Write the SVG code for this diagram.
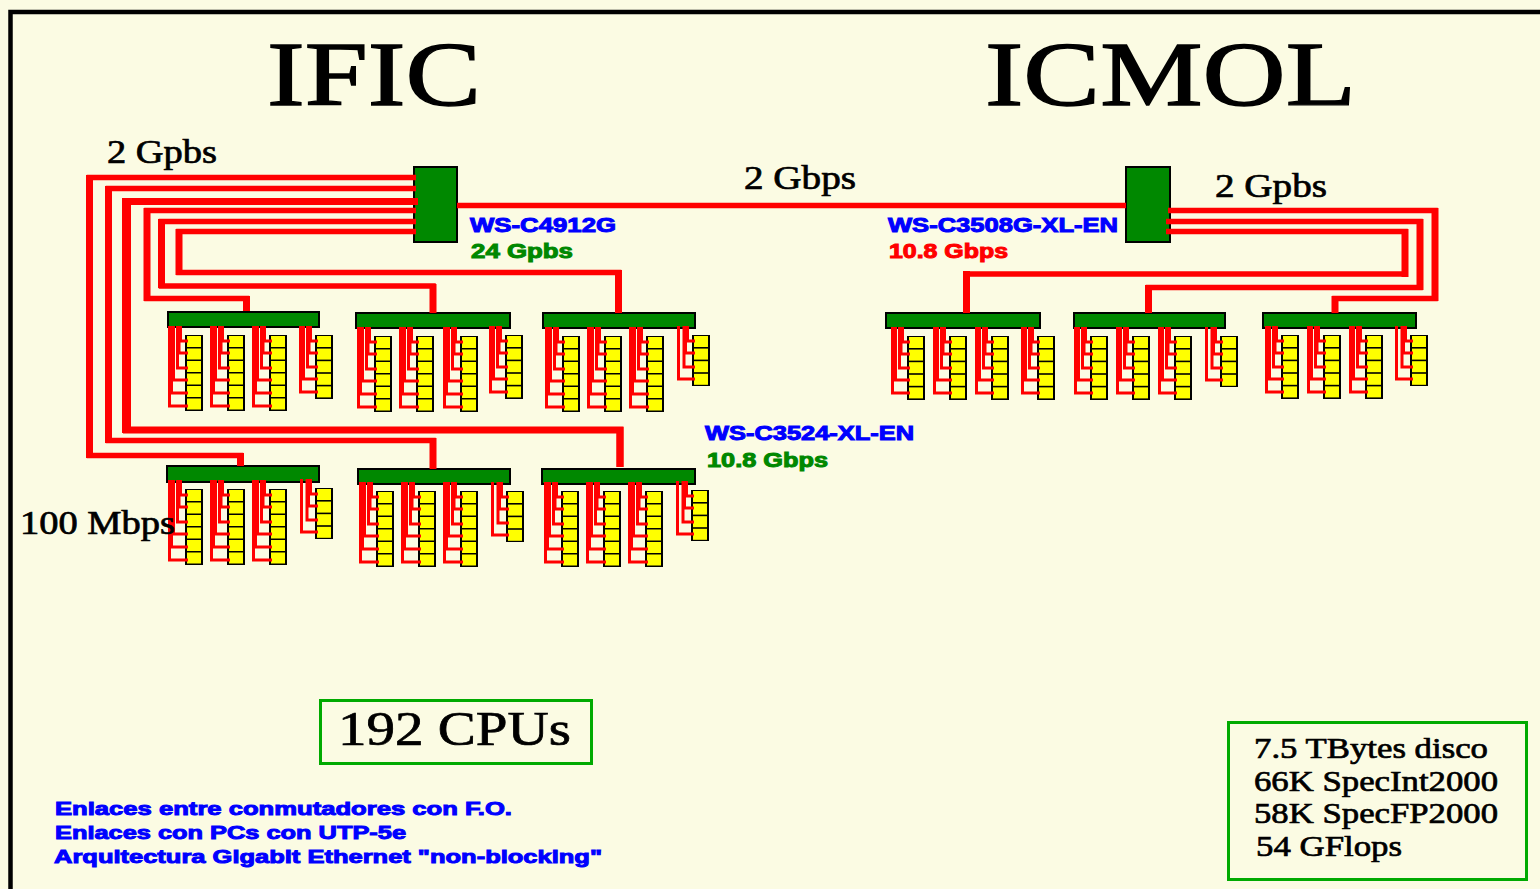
<svg xmlns="http://www.w3.org/2000/svg" xmlns:xlink="http://www.w3.org/1999/xlink" width="1540" height="889" viewBox="0 0 1540 889">
<style>
.sw{fill:#008800;stroke:#000;stroke-width:2}
.k{fill:#000}
.y{fill:#ffff00}
.tr{fill:none;stroke:#ff0000;stroke-width:5.500;stroke-linejoin:miter}
.v{fill:none;stroke:#ff0000;stroke-width:7}
.w{fill:none;stroke:#ff0000;stroke-width:3}
.box{fill:none;stroke:#00aa00;stroke-width:3}
text{font-family:"Liberation Serif","Times New Roman",serif;fill:#000}
.h{font-size:92px;stroke:#000;stroke-width:1.400}
.m{font-size:33px;stroke:#000;stroke-width:.7}
.n{font-size:30px;stroke:#000;stroke-width:.7}
.c{font-size:48px;stroke:#000;stroke-width:.7}
.b{font-family:"Liberation Sans",Arial,sans-serif;font-weight:700;font-size:20px;stroke-width:1}
.l{font-family:"Liberation Sans",Arial,sans-serif;font-weight:700;font-size:19px;fill:#0000ff;stroke:#0000ff;stroke-width:1}
.blue{fill:#0000ff;stroke:#0000ff}.green{fill:#008800;stroke:#008800}.red{fill:#ff0000;stroke:#ff0000}
</style>
<defs>
<g id="c6"><rect class="k" x="0" y="0" width="18" height="76"/><g class="y"><rect x="2" y="1" width="14" height="11"/><rect x="2" y="13.500" width="14" height="11"/><rect x="2" y="26" width="14" height="11"/><rect x="2" y="38.500" width="14" height="11"/><rect x="2" y="51" width="14" height="11"/><rect x="2" y="63.500" width="14" height="11"/></g></g>
<g id="c5"><rect class="k" x="0" y="0" width="18" height="64"/><g class="y"><rect x="2" y="1" width="14" height="11"/><rect x="2" y="13.600" width="14" height="11"/><rect x="2" y="26.200" width="14" height="11"/><rect x="2" y="38.800" width="14" height="11"/><rect x="2" y="51.400" width="14" height="11"/></g></g>
<g id="c4"><rect class="k" x="0" y="0" width="18" height="51"/><g class="y"><rect x="2" y="1" width="14" height="11"/><rect x="2" y="13.600" width="14" height="11"/><rect x="2" y="26.200" width="14" height="11"/><rect x="2" y="38.800" width="14" height="11"/></g></g>
<path id="w6" class="w" d="M-4.500 -9V6H3M-6 -9V18H3M-7.500 -9V33H3M-11.500 -9V45H3M-13.500 -9V58H3M-15.500 -9V71H3"/>
<path id="w5" class="w" d="M-4.500 -9V6H3M-6 -9V18H3M-7.500 -9V32H3M-11.500 -9V44H3M-14.500 -9V57H3"/>
<path id="w4" class="w" d="M-4.500 -9V6H3M-6.500 -9V18H3M-8 -9V32H3M-13.500 -9V44H3"/>
</defs>
<rect x="0" y="0" width="1540" height="889" fill="#fbfbe3"/>
<path d="M10.500 889V12H1540" fill="none" stroke="#000" stroke-width="4.500"/>

<g id="titles">
<text class="h" x="267" y="105" textLength="214" lengthAdjust="spacingAndGlyphs">IFIC</text>
<text class="h" x="985" y="105" textLength="371" lengthAdjust="spacingAndGlyphs">ICMOL</text>
</g>

<g id="core-ific"><rect class="sw" x="414" y="167" width="43" height="75"/></g>
<g id="core-icmol"><rect class="sw" x="1126" y="167" width="44" height="75"/></g>

<g id="sw-t1"><rect class="sw" x="168" y="312" width="151" height="15"/><use xlink:href="#c6" x="185" y="335"/><use xlink:href="#c6" x="227" y="335"/><use xlink:href="#c6" x="269" y="335"/><use xlink:href="#c5" x="315" y="335"/></g>
<g id="sw-t2"><rect class="sw" x="356" y="313" width="154" height="15"/><use xlink:href="#c6" x="374" y="336"/><use xlink:href="#c6" x="416" y="336"/><use xlink:href="#c6" x="460" y="336"/><use xlink:href="#c5" x="505" y="335"/></g>
<g id="sw-t3"><rect class="sw" x="543" y="313" width="152" height="15"/><use xlink:href="#c6" x="562" y="336"/><use xlink:href="#c6" x="604" y="336"/><use xlink:href="#c6" x="646" y="336"/><use xlink:href="#c4" x="692" y="335"/></g>
<g id="sw-r1"><rect class="sw" x="886" y="313" width="154" height="15"/><use xlink:href="#c5" x="907" y="336"/><use xlink:href="#c5" x="949" y="336"/><use xlink:href="#c5" x="991" y="336"/><use xlink:href="#c5" x="1037" y="336"/></g>
<g id="sw-r2"><rect class="sw" x="1074" y="313" width="151" height="15"/><use xlink:href="#c5" x="1090" y="336"/><use xlink:href="#c5" x="1132" y="336"/><use xlink:href="#c5" x="1174" y="336"/><use xlink:href="#c4" x="1220" y="336"/></g>
<g id="sw-r3"><rect class="sw" x="1263" y="313" width="153" height="15"/><use xlink:href="#c5" x="1281" y="335"/><use xlink:href="#c5" x="1323" y="335"/><use xlink:href="#c5" x="1365" y="335"/><use xlink:href="#c4" x="1410" y="335"/></g>
<g id="sw-b1"><rect class="sw" x="167" y="466" width="152" height="16"/><use xlink:href="#c6" x="185" y="489"/><use xlink:href="#c6" x="227" y="489"/><use xlink:href="#c6" x="269" y="489"/><use xlink:href="#c4" x="315" y="488"/></g>
<g id="sw-b2"><rect class="sw" x="358" y="469" width="152" height="15"/><use xlink:href="#c6" x="376" y="491"/><use xlink:href="#c6" x="418" y="491"/><use xlink:href="#c6" x="460" y="491"/><use xlink:href="#c4" x="506" y="491"/></g>
<g id="sw-b3"><rect class="sw" x="542" y="469" width="153" height="15"/><use xlink:href="#c6" x="561" y="491"/><use xlink:href="#c6" x="603" y="491"/><use xlink:href="#c6" x="645" y="491"/><use xlink:href="#c4" x="691" y="490"/></g>

<g id="connectors">
<path class="tr" d="M457 205.500H1126"/>
<path class="tr" d="M416 177.500H89.500V455.500H240.500V466"/>
<path class="tr" d="M416 188.500H108.500V440.500H433V469"/>
<path class="tr" d="M418 201.500H126.500V430H620V467" style="stroke-width:7"/>
<path class="tr" d="M416 210.500H147V298.500H246.500V311"/>
<path class="tr" d="M416 221.500H161.500V286H433V313"/>
<path class="tr" d="M416 231.500H179V272.500H618.500V313"/>
<path class="tr" d="M1168 210.500H1435V298.500H1335V313"/>
<path class="tr" d="M1166 221.500H1420V287.500H1148.500V313"/>
<path class="tr" d="M1166 231.500H1405V274H966.500V313"/>
<path class="v" d="M89.500 175V458M240.500 453V466M108.500 186V443M433 438V469M147 208V301M246.500 296V311M161.500 219V288M433 284V313M179 229V275M618.500 270V313M1435 208V301M1335 296V313M1420 219V290M1148.500 285V313M1405 229V277M966.500 271V313"/>
<path class="v" style="stroke-width:9" d="M126.500 198V433"/>
<path class="v" d="M620 427V467"/>
<use xlink:href="#w6" x="185" y="335"/><use xlink:href="#w6" x="227" y="335"/><use xlink:href="#w6" x="269" y="335"/><use xlink:href="#w5" x="315" y="335"/>
<use xlink:href="#w6" x="374" y="336"/><use xlink:href="#w6" x="416" y="336"/><use xlink:href="#w6" x="460" y="336"/><use xlink:href="#w5" x="505" y="335"/>
<use xlink:href="#w6" x="562" y="336"/><use xlink:href="#w6" x="604" y="336"/><use xlink:href="#w6" x="646" y="336"/><use xlink:href="#w4" x="692" y="335"/>
<use xlink:href="#w5" x="907" y="336"/><use xlink:href="#w5" x="949" y="336"/><use xlink:href="#w5" x="991" y="336"/><use xlink:href="#w5" x="1037" y="336"/>
<use xlink:href="#w5" x="1090" y="336"/><use xlink:href="#w5" x="1132" y="336"/><use xlink:href="#w5" x="1174" y="336"/><use xlink:href="#w4" x="1220" y="336"/>
<use xlink:href="#w5" x="1281" y="335"/><use xlink:href="#w5" x="1323" y="335"/><use xlink:href="#w5" x="1365" y="335"/><use xlink:href="#w4" x="1410" y="335"/>
<use xlink:href="#w6" x="185" y="489"/><use xlink:href="#w6" x="227" y="489"/><use xlink:href="#w6" x="269" y="489"/><use xlink:href="#w4" x="315" y="488"/>
<use xlink:href="#w6" x="376" y="491"/><use xlink:href="#w6" x="418" y="491"/><use xlink:href="#w6" x="460" y="491"/><use xlink:href="#w4" x="506" y="491"/>
<use xlink:href="#w6" x="561" y="491"/><use xlink:href="#w6" x="603" y="491"/><use xlink:href="#w6" x="645" y="491"/><use xlink:href="#w4" x="691" y="490"/>
</g>

<g id="labels">
<text class="m" x="107" y="163" textLength="110" lengthAdjust="spacingAndGlyphs">2 Gpbs</text>
<text class="m" x="744" y="189" textLength="112" lengthAdjust="spacingAndGlyphs">2 Gbps</text>
<text class="m" x="1215" y="197" textLength="112" lengthAdjust="spacingAndGlyphs">2 Gpbs</text>
<text class="m" x="20" y="534" textLength="155" lengthAdjust="spacingAndGlyphs">100 Mbps</text>
<text class="b blue" x="470" y="232" textLength="146" lengthAdjust="spacingAndGlyphs">WS-C4912G</text>
<text class="b green" x="471" y="258" textLength="102" lengthAdjust="spacingAndGlyphs">24 Gpbs</text>
<text class="b blue" x="888" y="232" textLength="230" lengthAdjust="spacingAndGlyphs">WS-C3508G-XL-EN</text>
<text class="b red" x="889" y="258" textLength="119" lengthAdjust="spacingAndGlyphs">10.8 Gbps</text>
<text class="b blue" x="705" y="440" textLength="209" lengthAdjust="spacingAndGlyphs">WS-C3524-XL-EN</text>
<text class="b green" x="707" y="467" textLength="121" lengthAdjust="spacingAndGlyphs">10.8 Gbps</text>
</g>

<g id="cpus">
<rect class="box" x="320.500" y="700.500" width="271" height="63"/>
<text class="c" x="338" y="745" textLength="233" lengthAdjust="spacingAndGlyphs">192 CPUs</text>
</g>
<g id="legend">
<text class="l" x="55" y="815" textLength="457" lengthAdjust="spacingAndGlyphs">Enlaces entre conmutadores con F.O.</text>
<text class="l" x="55" y="839" textLength="351" lengthAdjust="spacingAndGlyphs">Enlaces con PCs con UTP-5e</text>
<text class="l" x="54" y="863" textLength="548" lengthAdjust="spacingAndGlyphs">Arquitectura Gigabit Ethernet "non-blocking"</text>
</g>
<g id="specs">
<rect class="box" x="1228.500" y="722.500" width="298" height="157"/>
<text class="n" x="1254" y="758" textLength="234" lengthAdjust="spacingAndGlyphs">7.5 TBytes disco</text>
<text class="n" x="1254" y="791" textLength="244" lengthAdjust="spacingAndGlyphs">66K SpecInt2000</text>
<text class="n" x="1254" y="823" textLength="244" lengthAdjust="spacingAndGlyphs">58K SpecFP2000</text>
<text class="n" x="1256" y="856" textLength="146" lengthAdjust="spacingAndGlyphs">54 GFlops</text>
</g>
</svg>
